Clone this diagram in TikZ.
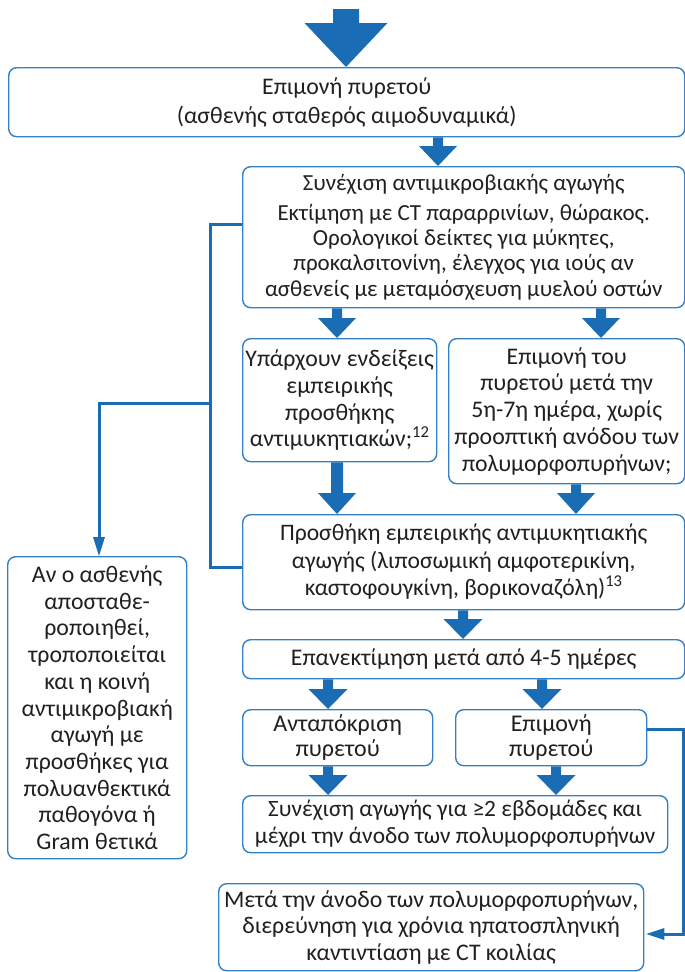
\documentclass[tikz,border=0pt]{standalone}
\usepackage{fontspec}
\setmainfont{Carlito}
\usetikzlibrary{calc}

\definecolor{flowblue}{HTML}{1A6DB5}
\definecolor{edgeblue}{HTML}{3580C4}
\definecolor{inkgray}{HTML}{231F20}

\tikzset{
  box/.style={draw=edgeblue, line width=1.4pt, rounded corners=8pt, fill=white,
    inner sep=0pt, align=center, text=inkgray, anchor=north west,
    font=\fontsize{23.8}{26.7}\selectfont},
  fsz/.style 2 args={font=\fontsize{#1}{#2}\selectfont},
  link/.style={draw=flowblue, line width=3pt},
}

% box given by its top-left and bottom-right corners
\newcommand\flowbox[7][]{%
  \node[box, #1, minimum width={(#5-#3)*1pt}, minimum height={(#6-#4)*1pt}] (#2) at (#3,#4) {#7};}

% filled block arrow pointing down: start, tip, shaft width, head width, head length
\newcommand\blockarrow[5]{%
  \fill[flowblue] let \p1=(#1), \p2=(#2) in
    (\x1-#3pt/2,\y1) -- (\x1+#3pt/2,\y1) -- (\x1+#3pt/2,\y2+#5pt) -- (\x1+#4pt/2,\y2+#5pt)
    -- (\x1,\y2) -- (\x1-#4pt/2,\y2+#5pt) -- (\x1-#3pt/2,\y2+#5pt) -- cycle;}

\begin{document}
\begin{tikzpicture}[x=1pt, y=-1pt]
\useasboundingbox (0,0) rectangle (685,972);

% ---- boxes ----
\flowbox[fsz={23.8}{29}]{b1}{8}{67}{684}{136}{Επιμονή πυρετού\\(ασθενής σταθερός αιμοδυναμικά)}
\flowbox[fsz={23}{25.3}]{b2}{242}{166}{684}{307}{Συνέχιση αντιμικροβιακής αγωγής\\[4.5pt]
  Εκτίμηση με CT παραρρινίων, θώρακος.\\Ορολογικοί δείκτες για μύκητες,\\
  προκαλσιτονίνη, έλεγχος για ιούς αν\\ασθενείς με μεταμόσχευση μυελού οστών}
\flowbox{b3a}{242}{338}{436}{461}{Υπάρχουν ενδείξεις\\εμπειρικής\\προσθήκης\\αντιμυκητιακών;\textsuperscript{12}}
\flowbox{b3b}{448}{338}{684}{483}{Επιμονή του\\πυρετού μετά την\\5η-7η ημέρα, χωρίς\\προοπτική ανόδου των\\πολυμορφοπυρήνων;}
\flowbox[fsz={23.6}{27.5}]{b4}{242}{514}{684}{609}{Προσθήκη εμπειρικής αντιμυκητιακής\\αγωγής (λιποσωμική αμφοτερικίνη,\\καστοφουγκίνη, βορικοναζόλη)\textsuperscript{13}}
\flowbox{b5}{242}{639}{684}{678}{Επανεκτίμηση μετά από 4-5 ημέρες}
\flowbox[fsz={24}{25}]{b6a}{242}{709}{432}{765}{Ανταπόκριση\\πυρετού}
\flowbox[fsz={24}{25}]{b6b}{455}{709}{646}{765}{Επιμονή\\πυρετού}
\flowbox[fsz={23.4}{27}]{b7}{242}{795}{667}{852}{Συνέχιση αγωγής για ≥2 εβδομάδες και\\μέχρι την άνοδο των πολυμορφοπυρήνων}
\flowbox[fsz={23.8}{26.5}]{b8}{218}{883}{643}{970}{Μετά την άνοδο των πολυμορφοπυρήνων,\\διερεύνηση για χρόνια ηπατοσπληνική\\καντιντίαση με CT κοιλίας}
\flowbox{bl}{7}{556}{186}{858}{Αν ο ασθενής\\αποσταθε-\\ροποιηθεί,\\τροποποιείται\\και η κοινή\\αντιμικροβιακή\\αγωγή με\\προσθήκες για\\πολυανθεκτικά\\παθογόνα ή\\Gram θετικά}

% ---- block arrows ----
\coordinate (entry) at (346,9);
\coordinate (xa) at (438,0);
\coordinate (xb) at (337,0);
\coordinate (xc) at (601,0);
\coordinate (xd) at (576,0);
\coordinate (xe) at (463,0);
\coordinate (xf) at (328,0);
\coordinate (xg) at (542,0);
\coordinate (xh) at (556,0);

\blockarrow{entry}{b1.north -| entry}{26}{83}{44}
\blockarrow{b1.south -| xa}{b2.north -| xa}{10}{38}{20}
\blockarrow{b2.south -| xb}{b3a.north -| xb}{10}{38}{20}
\blockarrow{b2.south -| xc}{b3b.north -| xc}{10}{38}{20}
\blockarrow{b3a.south -| xb}{b4.north -| xb}{12}{38}{21}
\blockarrow{b3b.south -| xd}{b4.north -| xd}{10}{38}{21}
\blockarrow{b4.south -| xe}{b5.north -| xe}{10}{39}{20}
\blockarrow{b5.south -| xf}{b6a.north -| xf}{10}{39}{20}
\blockarrow{b5.south -| xg}{b6b.north -| xg}{10}{39}{20}
\blockarrow{b6a.south -| xf}{b7.north -| xf}{10}{39}{20}
\blockarrow{b6b.south -| xh}{b7.north -| xh}{10}{39}{20}

% ---- side connectors ----
\coordinate (j1) at (210,224);
\coordinate (j2) at (210,567);
\coordinate (j3) at (210,403);
\coordinate (k) at (99,0);
\draw[link] (b2.west |- j1) -- (j1) -- (j2) -- (b4.west |- j2);
\draw[link] (j3) -- (j3 -| k) -- ([yshift=16pt]bl.north -| k);
\fill[flowblue] (bl.north -| k) -- ++(-6pt,19pt) -- ++(12pt,0pt) -- cycle;

\coordinate (r1) at (683,729);
\coordinate (r2) at (683,934);
\draw[link] (b6b.east |- r1) -- (r1) -- (r2) -- ([xshift=18pt]b8.east |- r2);
\fill[flowblue] ([xshift=2pt]b8.east |- r2) -- ++(18pt,6pt) -- ++(0pt,-12pt) -- cycle;
\end{tikzpicture}
\end{document}
